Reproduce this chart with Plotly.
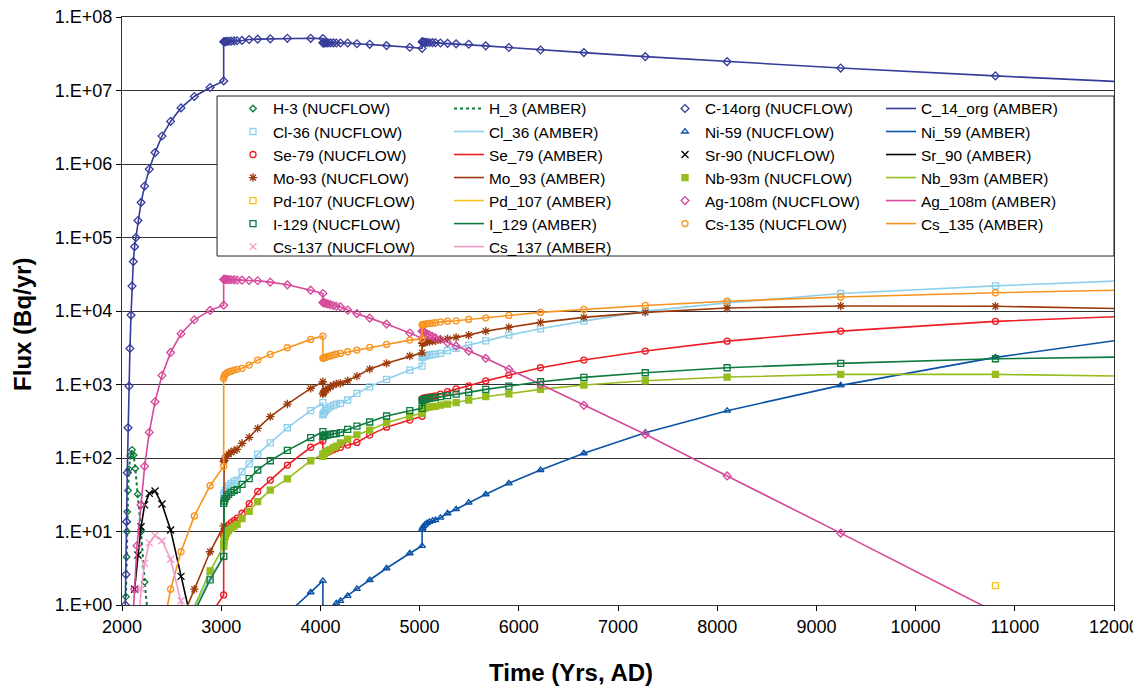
import plotly.graph_objects as go

# ---------------- shared time grid after the first event (years AD) ----------------
late_years = [3025, 3025, 3030, 3040, 3055, 3075, 3100, 3130, 3160,
              3210, 3282, 3368, 3495, 3667, 3902,
              4025, 4025, 4030, 4040, 4055, 4075, 4100, 4130, 4160,
              4202, 4275, 4368, 4497, 4667, 4901,
              5025, 5025, 5030, 5040, 5055, 5075, 5100, 5130, 5160,
              5210, 5282, 5368, 5495, 5667, 5900, 6219, 6656, 7275, 8100, 9245, 10805]

# ---------------- H-3 ----------------
h3_years = [2040, 2046, 2050, 2053, 2061, 2071, 2084, 2101, 2117, 2134, 2159, 2192, 2228]
h3_flux = [1.3, 4.5, 10, 18.5, 36, 70, 107, 129, 110, 72, 32, 10, 2.06]
h3_tail_years = [2262]
h3_tail_flux = [0.7]

# ---------------- C-14org ----------------
c14_early_years = [2033, 2040, 2046, 2053, 2061, 2071, 2080, 2091, 2101, 2114, 2127, 2140,
                   2161, 2192, 2228, 2275, 2333, 2403, 2490, 2595, 2729, 2888]
c14_early_flux = [1.0, 2.6, 13.6, 63, 258, 950, 3100, 8800, 21800, 47000, 75000, 100000,
                  170000, 300000, 500000, 850000, 1.43e6, 2.4e6, 3.8e6, 5.8e6, 8.3e6, 1.1e7]
c14_late_flux = [1.35e7, 4.6e7,
                 4.6e7, 4.62e7, 4.65e7, 4.68e7, 4.7e7, 4.73e7, 4.76e7,
                 4.8e7, 4.95e7, 5.0e7, 5.05e7, 5.13e7, 5.13e7,
                 5.08e7, 4.45e7,
                 4.45e7, 4.45e7, 4.45e7, 4.45e7, 4.44e7, 4.44e7, 4.43e7,
                 4.43e7, 4.43e7, 4.33e7, 4.25e7, 4.08e7, 3.87e7,
                 3.75e7, 4.6e7,
                 4.58e7, 4.56e7, 4.54e7, 4.52e7, 4.5e7, 4.48e7, 4.46e7,
                 4.43e7, 4.38e7, 4.31e7, 4.26e7, 4.05e7, 3.84e7, 3.56e7, 3.28e7, 2.89e7, 2.47e7, 2.02e7, 1.58e7]
c14_tail_years = [12000]
c14_tail_flux = [1.33e7]

# ---------------- Cl-36 ----------------
cl36_early_years = [2729, 2888]
cl36_early_flux = [0.9, 2.4]
cl36_late_flux = [4.55, 31.4,
                  33, 36, 39, 42, 45, 48, 50,
                  65, 83, 113, 161, 258, 440,
                  565, 385,
                  400, 420, 445, 470, 495, 520, 540,
                  555, 615, 758, 931, 1175, 1570,
                  1780, 2340,
                  2370, 2400, 2440, 2480, 2520, 2560, 2590,
                  2650, 2900, 3100, 3430, 3930, 4700, 5730, 7290, 9970, 12900, 17300, 22000]
cl36_tail_years = [12000]
cl36_tail_flux = [25500]

# ---------------- Ni-59 ----------------
ni59_early_years = [3667, 3902]
ni59_early_flux = [0.76, 1.49]
ni59_late_flux = [2.13, 0.25,
                  0.3, 0.4, 0.5, 0.62, 0.78, 0.98, 1.05,
                  1.14, 1.33, 1.66, 2.19, 3.16, 5.06,
                  6.36, 10.7,
                  11.2, 11.8, 12.4, 13.0, 13.5, 14.0, 14.3,
                  15.4, 17.7, 20.1, 24.7, 32.1, 45.3, 68.7, 116, 221, 440, 973, 2340]
ni59_tail_years = [12000]
ni59_tail_flux = [3930]

# ---------------- Se-79 ----------------
se79_early_years = [2888]
se79_early_flux = [0.72]
se79_late_flux = [1.37, 8.7,
                  9.5, 10.3, 11.2, 12.2, 13.2, 14.2, 15.2,
                  17.7, 24, 35, 50, 80, 140,
                  170, 105,
                  108, 112, 116, 120, 125, 130, 135,
                  140, 150, 163, 205, 263, 328,
                  370, 630,
                  640, 650, 660, 670, 680, 690, 700,
                  740, 800, 870, 960, 1120, 1340, 1690, 2150, 2850, 3890, 5330, 7230]
se79_tail_years = [12000]
se79_tail_flux = [8340]

# ---------------- Sr-90 ----------------
sr90_years = [2127, 2161, 2192, 2228, 2275, 2333, 2403, 2490, 2595, 2729]
sr90_flux = [1.64, 4.8, 11.6, 23, 33, 35.6, 23.7, 10.5, 2.45, 0.4]

# ---------------- Mo-93 ----------------
mo93_early_years = [2595, 2729, 2888]
mo93_early_flux = [0.6, 1.64, 5.3]
mo93_late_flux = [11.9, 89,
                  93, 99, 106, 113, 120, 126, 131,
                  158, 191, 253, 365, 542, 887,
                  1090, 742,
                  770, 800, 840, 880, 930, 980, 1020,
                  1040, 1130, 1300, 1620, 1940, 2440,
                  2700, 3630,
                  3660, 3700, 3750, 3800, 3850, 3900, 3940,
                  4050, 4190, 4380, 4700, 5330, 5980, 7000, 8180, 9570, 11000, 11700, 11600]
mo93_tail_years = [12000]
mo93_tail_flux = [10800]

# ---------------- Nb-93m ----------------
nb93m_early_years = [2729, 2888]
nb93m_early_flux = [0.95, 2.9]
nb93m_late_flux = [6.3, 6.8,
                   7.5, 8.5, 9.5, 10.3, 11, 11.8, 12.5,
                   15, 18.8, 25.5, 36.6, 52, 91.8,
                   113, 105,
                   110, 115, 120, 125, 130, 138, 145,
                   160, 180, 206, 240, 302, 373,
                   405, 450,
                   460, 470, 480, 488, 495, 500, 505,
                   525, 542, 565, 615, 682, 749, 859, 984, 1125, 1262, 1374, 1374]
nb93m_tail_years = [12000]
nb93m_tail_flux = [1303]

# ---------------- Pd-107 ----------------
pd107_years = [10805]
pd107_flux = [1.83]

# ---------------- Ag-108m ----------------
ag108m_early_years = [2110, 2127, 2151, 2192, 2228, 2275, 2333, 2403, 2490, 2595, 2729, 2888]
ag108m_early_flux = [0.63, 1.64, 6.4, 23, 77, 223, 582, 1330, 2730, 4900, 7590, 10200]
ag108m_late_flux = [12000, 26900,
                    26900, 26900, 26800, 26700, 26600, 26500, 26400,
                    26300, 26000, 25800, 24700, 22700, 19200,
                    17300, 13100,
                    13000, 12900, 12700, 12500, 12200, 11900, 11600,
                    11400, 10300, 9200, 8000, 6640, 5010,
                    4240, 5330,
                    5300, 5200, 5050, 4900, 4700, 4500, 4300,
                    4110, 3700, 3330, 2850, 2270, 1610, 1000, 520, 210, 57, 9.5, 0.8]

# ---------------- I-129 ----------------
i129_early_years = [2729, 2888]
i129_early_flux = [0.8, 2.2]
i129_late_flux = [4.6, 24.2,
                  26, 28, 30, 32, 34, 36, 37.5,
                  43.8, 52.3, 68.7, 91.8, 127, 189,
                  228, 195,
                  198, 201, 204, 207, 210, 213, 215,
                  222, 245, 272, 309, 373, 440,
                  474, 601,
                  610, 620, 630, 640, 650, 660, 670,
                  682, 704, 742, 782, 859, 953, 1090, 1250, 1445, 1690, 1940, 2240]
i129_tail_years = [12000]
i129_tail_flux = [2360]

# ---------------- Cs-135 ----------------
cs135_early_years = [2403, 2490, 2595, 2729, 2888]
cs135_early_flux = [0.39, 1.64, 5.3, 16.3, 42]
cs135_late_flux = [77, 1210,
                   1300, 1370, 1430, 1480, 1520, 1570, 1610,
                   1660, 1840, 2150, 2570, 3160, 4110,
                   4560, 2270,
                   2290, 2320, 2360, 2400, 2450, 2520, 2580,
                   2650, 2790, 2940, 3200, 3510, 4020,
                   4190, 6460,
                   6500, 6560, 6620, 6700, 6780, 6850, 6920,
                   7130, 7280, 7360, 7690, 8080, 8700, 9570, 10500, 11900, 13600, 15500, 17700]
cs135_tail_years = [12000]
cs135_tail_flux = [19200]

# ---------------- Cs-137 ----------------
cs137_years = [2161, 2192, 2228, 2275, 2333, 2403, 2490, 2595, 2729]
cs137_flux = [0.35, 1.65, 3.7, 7.0, 8.8, 7.5, 4.2, 1.14, 0.2]

# ---------------- axis ticks ----------------
y_tick_vals = [1, 10, 100, 1e3, 1e4, 1e5, 1e6, 1e7, 1e8]
y_tick_text = ["1.E+00", "1.E+01", "1.E+02", "1.E+03", "1.E+04",
               "1.E+05", "1.E+06", "1.E+07", "1.E+08"]
x_tick_vals = [2000, 3000, 4000, 5000, 6000, 7000, 8000, 9000, 10000, 11000, 12000]
x_tick_text = ["2000", "3000", "4000", "5000", "6000", "7000", "8000", "9000",
               "10000", "11000", "12000"]


def full(early_years, early_flux, late_flux, start=0):
    return early_years + late_years[start:], early_flux + late_flux


# (nucflow label, amber label, years, flux, tail_years, tail_flux, colour, symbol, msize, dash)
series = []
x, y = h3_years, h3_flux
series.append(("H-3", "H_3", x, y, h3_tail_years, h3_tail_flux, "#0A7A3A", "diamond-open", 5, "dot"))
x, y = full(c14_early_years, c14_early_flux, c14_late_flux)
series.append(("C-14org", "C_14_org", x, y, c14_tail_years, c14_tail_flux, "#363C9A", "diamond-open", 6, "solid"))
x, y = full(cl36_early_years, cl36_early_flux, cl36_late_flux)
series.append(("Cl-36", "Cl_36", x, y, cl36_tail_years, cl36_tail_flux, "#8ED0EC", "square-open", 6, "solid"))
x, y = full(ni59_early_years, ni59_early_flux, ni59_late_flux, start=15)
series.append(("Ni-59", "Ni_59", x, y, ni59_tail_years, ni59_tail_flux, "#0A52A5", "triangle-up-open", 6, "solid"))
x, y = full(se79_early_years, se79_early_flux, se79_late_flux)
series.append(("Se-79", "Se_79", x, y, se79_tail_years, se79_tail_flux, "#EE1C25", "circle-open", 6, "solid"))
series.append(("Sr-90", "Sr_90", sr90_years, sr90_flux, [], [], "#000000", "x-thin-open", 7, "solid"))
x, y = full(mo93_early_years, mo93_early_flux, mo93_late_flux)
series.append(("Mo-93", "Mo_93", x, y, mo93_tail_years, mo93_tail_flux, "#9C3A0C", "asterisk-open", 7, "solid"))
x, y = full(nb93m_early_years, nb93m_early_flux, nb93m_late_flux)
series.append(("Nb-93m", "Nb_93m", x, y, nb93m_tail_years, nb93m_tail_flux, "#96BC1E", "square", 6, "solid"))
series.append(("Pd-107", "Pd_107", pd107_years, pd107_flux, [], [], "#F7C21B", "square-open", 6, "solid"))
x, y = full(ag108m_early_years, ag108m_early_flux, ag108m_late_flux)
series.append(("Ag-108m", "Ag_108m", x, y, [], [], "#D6489A", "diamond-open", 6, "solid"))
x, y = full(i129_early_years, i129_early_flux, i129_late_flux)
series.append(("I-129", "I_129", x, y, i129_tail_years, i129_tail_flux, "#0E7A3E", "square-open", 6, "solid"))
x, y = full(cs135_early_years, cs135_early_flux, cs135_late_flux)
series.append(("Cs-135", "Cs_135", x, y, cs135_tail_years, cs135_tail_flux, "#F7931E", "circle-open", 6, "solid"))
series.append(("Cs-137", "Cs_137", cs137_years, cs137_flux, [], [], "#F39AC8", "x-thin-open", 7, "solid"))

fig = go.Figure()
for base, amber, xs, ys, tx, ty, col, sym, ms, dash in series:
    mx = [a for a, b in zip(xs, ys) if b >= 1]
    my = [b for b in ys if b >= 1]
    fig.add_trace(go.Scatter(
        x=mx, y=my, mode="markers", name=f"{base} (NUCFLOW)",
        marker=dict(symbol=sym, size=ms, color=col, line=dict(color=col, width=1.3)),
    ))
    fig.add_trace(go.Scatter(
        x=xs + tx, y=ys + ty, mode="lines", name=f"{amber} (AMBER)",
        line=dict(color=col, width=1.6 if dash == "solid" else 2, dash=dash),
    ))

# The page body adds an 8 px offset, so the figure is 8 px smaller and margins shifted.
font_family = "Liberation Sans, Arial, sans-serif"
fig.update_layout(
    width=1133, height=678,
    margin=dict(l=114, r=27, t=9, b=81, autoexpand=False),
    paper_bgcolor="white", plot_bgcolor="white",
    font=dict(family=font_family, size=16, color="black"),
    showlegend=True,
    legend=dict(
        orientation="h", entrywidth=171, entrywidthmode="pixels",
        x=0.1119, y=0.8725, xanchor="left", yanchor="top",
        bgcolor="rgba(0,0,0,0)", borderwidth=0,
        font=dict(family=font_family, size=15.4, color="black"),
        itemsizing="trace", tracegroupgap=0,
    ),
    shapes=[
        # legend frame
        dict(type="rect", xref="paper", yref="paper", x0=0.0958, x1=1.0, y0=0.5935, y1=0.8656,
             fillcolor="white", line=dict(color="#222222", width=1), layer="above"),
    ],
    xaxis=dict(
        range=[2000, 12000], tickvals=x_tick_vals, ticktext=x_tick_text,
        ticks="outside", ticklen=5, tickcolor="black", automargin=False,
        showgrid=False, zeroline=False, ticklabeloverflow="allow",
        showline=True, linecolor="#333333", linewidth=1, mirror=True,
        tickfont=dict(family=font_family, size=18, color="black"),
    ),
    yaxis=dict(
        type="log", range=[0, 8], tickvals=y_tick_vals, ticktext=y_tick_text,
        ticks="outside", ticklen=5, tickcolor="black", automargin=False,
        showgrid=True, gridcolor="#333333", gridwidth=1, zeroline=False, ticklabeloverflow="allow",
        showline=True, linecolor="#333333", linewidth=1, mirror=True,
        tickfont=dict(family=font_family, size=18, color="black"),
    ),
    annotations=[
        dict(text="<b>Time (Yrs, AD)</b>", xref="paper", yref="paper",
             x=0.4526, y=-0.114, xanchor="center", yanchor="middle", showarrow=False,
             font=dict(family=font_family, size=24, color="black")),
        dict(text="<b>Flux (Bq/yr)</b>", xref="paper", yref="paper",
             x=-0.0998, y=0.478, xanchor="center", yanchor="middle", showarrow=False,
             textangle=-90, font=dict(family=font_family, size=24, color="black")),
    ],
)

fig.write_html("out.html")
